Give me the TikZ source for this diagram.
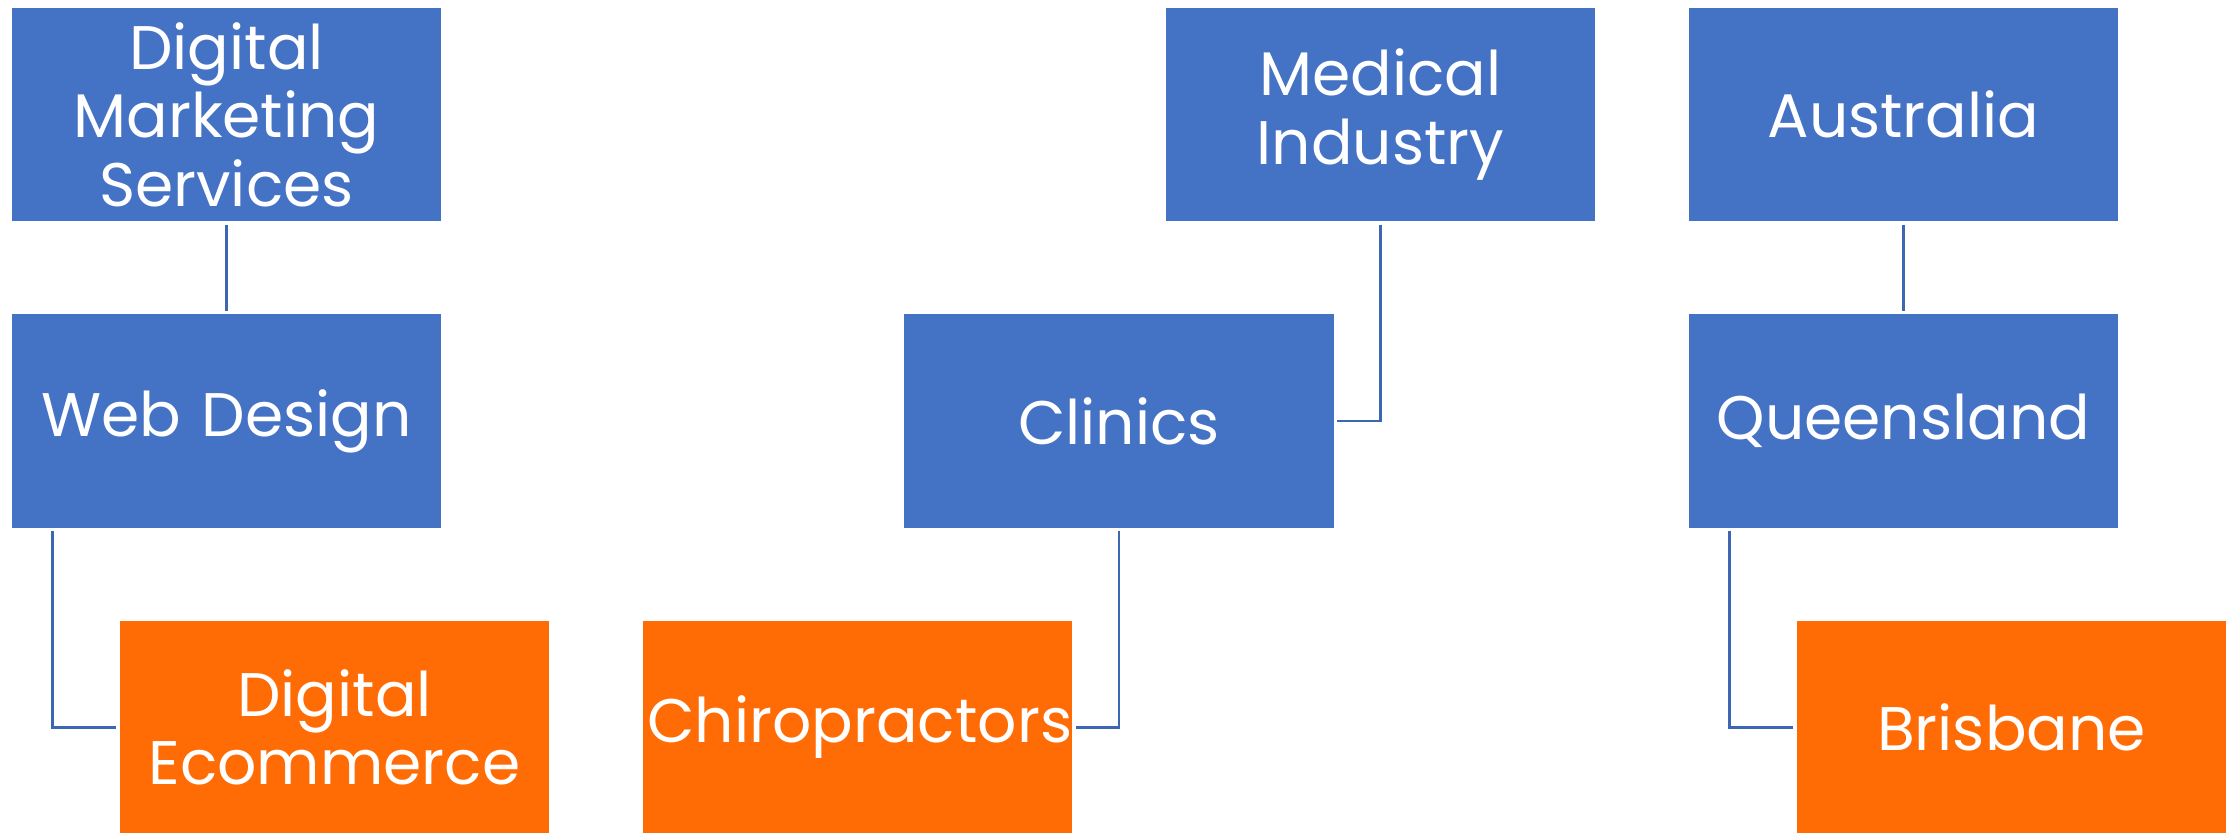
\documentclass[tikz,border=0pt]{standalone}
\usepackage{fontspec}
\setmainfont{Poppins}
\usepackage{tikz}
\usetikzlibrary{positioning}
\definecolor{boxblue}{HTML}{4472C4}
\definecolor{boxorange}{HTML}{FF6C05}
\definecolor{lineblue}{HTML}{3D66B3}

\begin{document}
\begin{tikzpicture}[x=0.01cm, y=-0.01cm]
   \useasboundingbox (0,0) rectangle (2236,832);
   \tikzset{termbox/.style={rectangle, minimum width=4.29cm, minimum height=2.13cm,
      inner sep=0pt, outer sep=1pt, text=white, align=center, text width=4.2cm,
      font=\fontsize{17.5}{19.5}\selectfont}}
   \begin{scope}[every node/.style={termbox, fill=boxblue}]
    \node (dms) at (226.5, 114.5) {Digital\\Marketing\\Services};
    \node (web) at (226.5, 421) {Web Design};
    \node (med) at (1380.5, 114.5) {Medical\\Industry};
    \node (clin) at (1119, 421) {Clinics};
    \node (aus) at (1903.5, 114.5) {Australia};
    \node (qld) at (1903.5, 421) {Queensland};
   \end{scope}
   \begin{scope}[every node/.style={termbox, fill=boxorange}]
    \node (ecom) at (334.5, 727.5) {Digital\\Ecommerce};
    \node (chiro) at (857.5, 727.5) {Chiropractors};
    \node (bris) at (2011.5, 727.5) {Brisbane};
   \end{scope}
   \begin{scope}[every path/.style={draw=lineblue, line width=0.8pt}]
    \draw (dms) -- (web);
    \draw ([xshift=0.44cm]web.south west) |- (ecom.west);
    \draw (med.south) |- (clin.east);
    \draw (clin.south) |- (chiro.east);
    \draw (aus) -- (qld);
    \draw ([xshift=0.44cm]qld.south west) |- (bris.west);
   \end{scope}
\end{tikzpicture}
\end{document}
